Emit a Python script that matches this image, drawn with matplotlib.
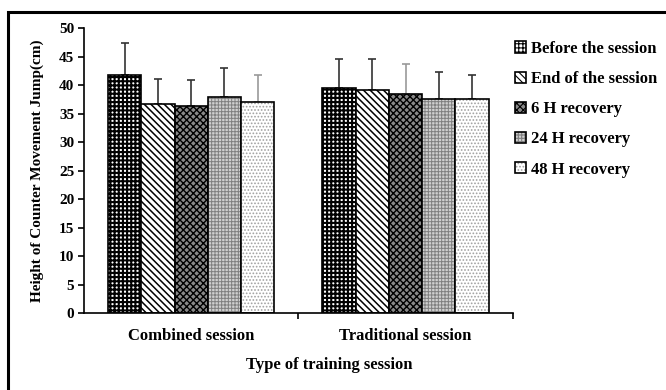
import matplotlib
matplotlib.use("Agg")
import matplotlib.pyplot as plt
import numpy as np
from matplotlib.patches import Rectangle

plt.rcParams["font.family"] = ["Liberation Serif", "DejaVu Serif"]
plt.rcParams["font.weight"] = "bold"

# data
groups = ["Combined session", "Traditional session"]
series = ["Before the session", "End of the session", "6 H recovery",
          "24 H recovery", "48 H recovery"]
combined_mean = [41.8, 36.7, 36.3, 38.0, 37.0]
combined_sd = [5.5, 4.4, 4.6, 5.0, 4.8]
traditional_mean = [39.5, 39.1, 38.4, 37.5, 37.5]
traditional_sd = [5.1, 5.5, 5.3, 4.8, 4.3]
y_ticks = list(range(0, 51, 5))

# fill style per series: (face, hatch, hatch colour, hatch linewidth)
styles = [
    ("white", "++++", "black", 1.5),
    ("white", "\\\\\\\\\\", "black", 1.1),
    ("#8a8a8a", "xxxxx", "black", 1.0),
    ("#d0d0d0", "+++++", "#808080", 0.7),
    ("white", ".....", "#a0a0a0", 0.8),
]
err_colors = [["#333333", "#333333", "#333333", "#333333", "#999999"],
              ["#333333", "#333333", "#999999", "#333333", "#333333"]]

fig = plt.figure(figsize=(6.66, 3.9), dpi=100)
ax = fig.add_axes([0.126, 0.197, 0.644, 0.731])

# outer frame, clipped at right/bottom like the scan
fig.patches.append(Rectangle((8 / 666, -0.05), 1.0, 1 - 12 / 390 + 0.05,
                             transform=fig.transFigure, fill=False,
                             edgecolor="black", linewidth=2.2))

means = np.array([combined_mean, traditional_mean])
sds = np.array([combined_sd, traditional_sd])
x = np.arange(len(groups))
width = 0.155
offsets = (np.arange(len(series)) - 2) * width

handles = []
for i, name in enumerate(series):
    face, hatch, hcol, hlw = styles[i]
    plt.rcParams["hatch.linewidth"] = hlw
    plt.rcParams["hatch.color"] = hcol
    bars = ax.bar(x + offsets[i], means[:, i], width, facecolor=face,
                  edgecolor="black", linewidth=1.2, hatch=hatch,
                  label=name, zorder=2)
    for b in bars:
        b._hatch_color = matplotlib.colors.to_rgba(hcol)
        if hasattr(b, "set_hatch_linewidth"):
            b.set_hatch_linewidth(hlw)
    handles.append(bars)
    for g in range(len(groups)):
        # one-sided (upper) error bars
        ax.errorbar(x[g] + offsets[i], means[g, i],
                    yerr=[[0], [sds[g, i]]], fmt="none",
                    ecolor=err_colors[g][i], elinewidth=1.2,
                    capsize=3, capthick=1.2, zorder=1)

ax.set_xlim(-0.5, 1.5)
ax.set_ylim(0, 50)
ax.set_yticks(y_ticks)
ax.set_xticks(x)
ax.set_xticklabels(groups, fontsize=12, fontweight="bold")
ax.set_xticks([0.5, 1.5], minor=True)
ax.tick_params(axis="x", which="major", length=0, pad=11)
ax.tick_params(axis="x", which="minor", length=4, width=1.2)
ax.tick_params(axis="y", length=4, width=1.2, labelsize=11, pad=3)
for lab in ax.get_yticklabels():
    lab.set_fontweight("bold")
for s in ["top", "right"]:
    ax.spines[s].set_visible(False)
for s in ["left", "bottom"]:
    ax.spines[s].set_linewidth(1.2)

ax.set_ylabel("Height of Counter Movement Jump(cm)", fontsize=11,
              fontweight="bold")
ax.yaxis.set_label_coords(-0.094, 0.5)
ax.set_xlabel("Type of training session", fontsize=12, fontweight="bold")
ax.xaxis.set_label_coords((329 - 84) / 429, -(357 - 313) / 285)

leg = ax.legend(handles=handles, loc="upper left",
                bbox_to_anchor=(1.005, 0.955), frameon=False,
                borderaxespad=0, borderpad=0,
                handlelength=0.65, handleheight=0.65, handletextpad=0.3,
                labelspacing=0.85, prop={"size": 12, "weight": "bold"})

fig.savefig("out.png", dpi=100)
